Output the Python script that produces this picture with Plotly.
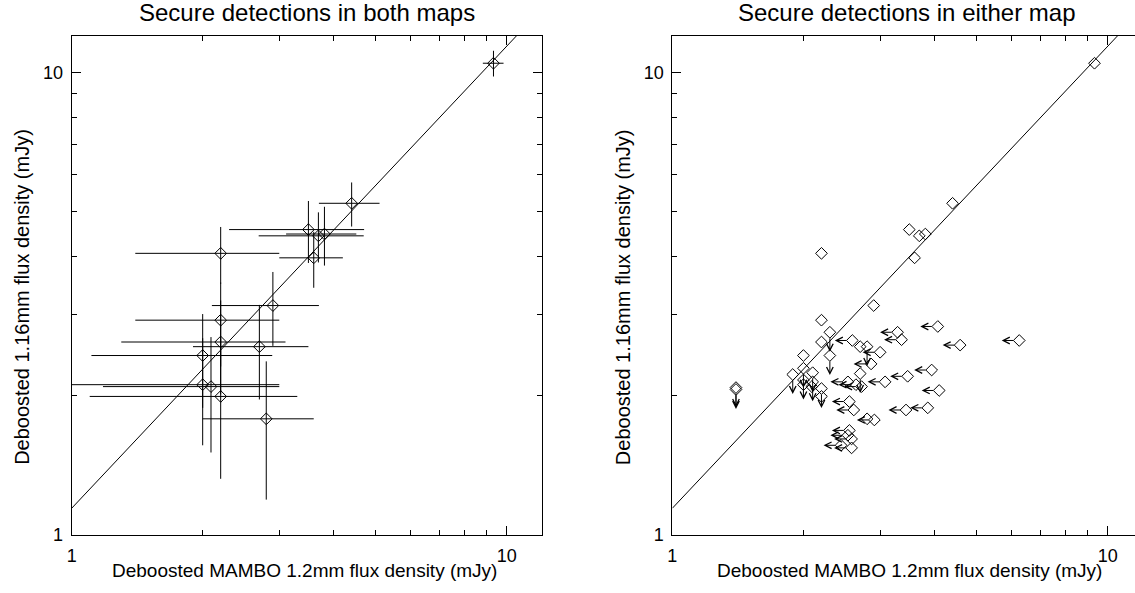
import numpy as np
import plotly.graph_objects as go

# ---------------- data ----------------
# secure detections in both maps (MAMBO 1.2mm vs 1.16mm), mJy
det_x = [9.32, 4.40, 3.50, 3.69, 3.81, 3.60, 2.20, 2.90, 2.20, 2.20, 2.70, 2.00, 2.00, 2.09, 2.20, 2.80]
det_xerr = [0.51, 0.70, 1.20, 1.00, 0.70, 0.60, 0.80, 0.80, 0.80, 0.90, 0.80, 0.89, 1.00, 0.91, 1.10, 0.80]
det_y = [10.47, 5.21, 4.57, 4.43, 4.47, 3.97, 4.06, 3.13, 2.91, 2.61, 2.55, 2.44, 2.11, 2.09, 1.99, 1.78]
det_yerr = [0.67, 0.57, 0.70, 0.55, 0.65, 0.55, 0.57, 0.57, 0.60, 0.60, 0.59, 0.56, 0.55, 0.585, 0.67, 0.59]

# secure in 1.16mm map only: upper limit in MAMBO flux (left arrows)
xlim_x = [2.59, 3.29, 3.36, 4.07, 6.26, 4.58, 3.00, 2.86, 3.08, 3.47, 3.94, 4.10, 3.86,
          3.44, 2.91, 2.55, 2.61, 2.53, 2.64, 2.72, 2.55, 2.53, 2.58, 2.44, 2.58]
xlim_y = [2.63, 2.74, 2.64, 2.82, 2.63, 2.57, 2.48, 2.34, 2.14, 2.20, 2.27, 2.05, 1.88,
          1.86, 1.77, 1.94, 1.86, 2.14, 2.11, 2.09, 1.68, 1.64, 1.61, 1.56, 1.54]

# secure in MAMBO map only: upper limit in 1.16mm flux (down arrows)
ylim_x = [1.40, 1.40, 1.89, 2.00, 2.00, 2.10, 2.10, 2.20, 2.30, 2.30, 2.80, 2.70]
ylim_y = [2.06, 2.08, 2.22, 2.29, 2.16, 2.24, 2.14, 2.07, 2.74, 2.44, 2.55, 2.23]

# relation line
line_ratio = 1.14
line_x = [1.0, 13.0]

titles = ["Secure detections in both maps", "Secure detections in either map"]
xlabel = "Deboosted MAMBO 1.2mm flux density (mJy)"
ylabel = "Deboosted 1.16mm flux density (mJy)"
major_ticks = [1, 10]
minor_ticks = [2, 3, 4, 5, 6, 7, 8, 9]

# ---------------- figure ----------------
W, H = 1135, 593
FONT = "Liberation Sans, Arial, Helvetica, sans-serif"

left_dom = [67 / W, 539 / W]
right_dom = [670.3 / W, 1.0]
y_dom = [(H - 543.7) / H, (H - 36.7) / H]

fig = go.Figure()

line_y = [line_ratio * v for v in line_x]
marker = dict(symbol="diamond-open", size=9, color="black", line=dict(width=1, color="black"))

# left panel
fig.add_trace(go.Scatter(x=line_x, y=line_y, mode="lines", line=dict(color="black", width=1),
                         xaxis="x", yaxis="y", showlegend=False, hoverinfo="skip"))
fig.add_trace(go.Scatter(x=det_x, y=det_y, mode="markers", marker=marker,
                         error_x=dict(type="data", array=det_xerr, width=0, thickness=1, color="black"),
                         error_y=dict(type="data", array=det_yerr, width=0, thickness=1, color="black"),
                         xaxis="x", yaxis="y", showlegend=False))

# right panel
fig.add_trace(go.Scatter(x=line_x, y=line_y, mode="lines", line=dict(color="black", width=1),
                         xaxis="x2", yaxis="y2", showlegend=False, hoverinfo="skip"))
fig.add_trace(go.Scatter(x=det_x + xlim_x + ylim_x, y=det_y + xlim_y + ylim_y, mode="markers",
                         marker=marker, xaxis="x2", yaxis="y2", showlegend=False))

annotations = []
ARROW_H = 18
ARROW_V = 20
arrow_style = dict(showarrow=True, arrowside="start", startarrowhead=5, startarrowsize=1.3,
                   arrowwidth=1, arrowcolor="black", standoff=6, text="",
                   font=dict(size=1), borderpad=0)
for xv, yv in zip(xlim_x, xlim_y):
    annotations.append(dict(xref="x2", yref="y2", x=np.log10(xv), y=np.log10(yv),
                            ax=-ARROW_H, ay=0, **arrow_style))
for xv, yv in zip(ylim_x, ylim_y):
    annotations.append(dict(xref="x2", yref="y2", x=np.log10(xv), y=np.log10(yv),
                            ax=0, ay=ARROW_V, **arrow_style))

# titles and axis labels
TITLE_FS, LABEL_FS, YLABEL_FS, TICK_FS = 24, 19, 20, 18
annotations.append(dict(xref="paper", yref="paper", x=(67 + 539) / 2 / W, y=(H - 13) / H,
                        text=titles[0], showarrow=False, xanchor="center", yanchor="middle",
                        font=dict(size=TITLE_FS, family=FONT, color="black")))
annotations.append(dict(xref="paper", yref="paper", x=906 / W, y=(H - 13) / H,
                        text=titles[1], showarrow=False, xanchor="center", yanchor="middle",
                        font=dict(size=TITLE_FS, family=FONT, color="black")))
for cx in [301, 909]:
    annotations.append(dict(xref="paper", yref="paper", x=cx / W, y=(H - 580) / H,
                            text=xlabel, showarrow=False, xanchor="center", yanchor="middle",
                            font=dict(size=LABEL_FS, family=FONT, color="black")))
for cx in [17, 621]:
    annotations.append(dict(xref="paper", yref="paper", x=cx / W, y=(H - 302) / H,
                            text=ylabel, showarrow=False, xanchor="center", yanchor="middle",
                            textangle=-90, font=dict(size=YLABEL_FS, family=FONT, color="black")))


def log_axis(domain, rng, anchor, mirror):
    return dict(type="log", domain=domain, range=rng, anchor=anchor,
                showgrid=False, zeroline=False, showline=True, linecolor="black", linewidth=1,
                mirror=mirror, ticks="inside", ticklen=9, tickwidth=1, tickcolor="black",
                tickvals=major_ticks, ticktext=[str(v) for v in major_ticks],
                tickfont=dict(size=TICK_FS, family=FONT, color="black"),
                minor=dict(tickvals=minor_ticks, ticks="inside", ticklen=5, tickwidth=1,
                           tickcolor="black", showgrid=False))


xr = [0, 1.0801]
yr = [0, 1.0787]
xr2 = [0, (W - 670.3) / 437.4]

fig.update_layout(
    width=W, height=H, margin=dict(l=0, r=0, t=0, b=0),
    paper_bgcolor="white", plot_bgcolor="white",
    xaxis=log_axis(left_dom, xr, "y", "ticks"),
    yaxis=log_axis(y_dom, yr, "x", "ticks"),
    xaxis2=log_axis(right_dom, xr2, "y2", "ticks"),
    yaxis2=log_axis(y_dom, yr, "x2", False),
    annotations=annotations,
    showlegend=False,
    font=dict(family=FONT, color="black"),
)
fig.update_xaxes(ticklabelstandoff=5)
fig.update_yaxes(ticklabelstandoff=4)

page_fix = "document.body.style.margin='0';document.body.style.overflow='hidden';"
fig.write_html("out.html", config={"displayModeBar": False}, post_script=page_fix)
